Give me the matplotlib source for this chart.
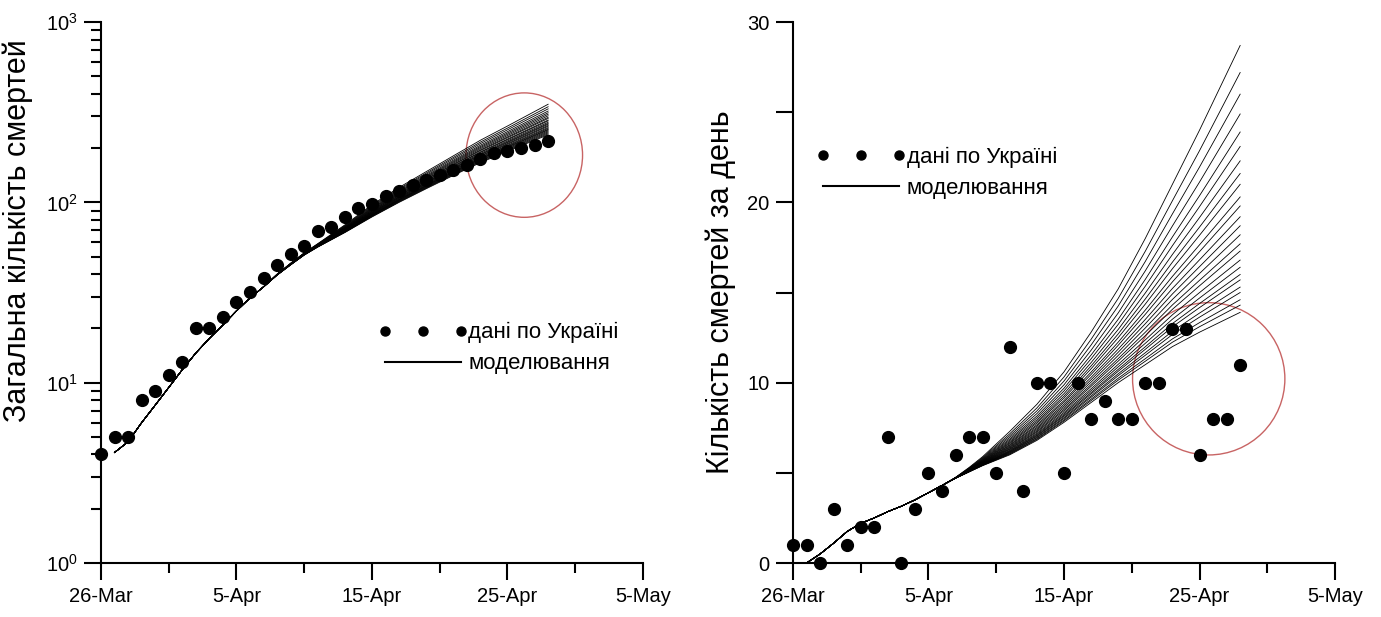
import numpy as np
import matplotlib
matplotlib.use("Agg")
import matplotlib.pyplot as plt
from matplotlib.patches import Ellipse
from matplotlib.lines import Line2D
from matplotlib.ticker import FixedLocator, LogLocator, NullFormatter

plt.rcParams['font.family'] = ['Liberation Sans', 'DejaVu Sans']
plt.rcParams['mathtext.fontset'] = 'custom'
plt.rcParams['mathtext.rm'] = 'Liberation Sans'
plt.rcParams['mathtext.it'] = 'Liberation Sans:italic'
plt.rcParams['mathtext.bf'] = 'Liberation Sans:bold'

# days counted from 26-Mar
tick_days = [0, 10, 20, 30, 40]
tick_labels = ['26-Mar', '5-Apr', '15-Apr', '25-Apr', '5-May']

# observed data (Ukraine)
total_deaths = [4, 5, 5, 8, 9, 11, 13, 20, 20, 23, 28, 32, 38, 45, 52, 57, 69, 73,
                83, 93, 98, 108, 116, 125, 133, 141, 151, 161, 174, 187, 193, 201, 209, 220]
daily_deaths = [1, 1, 0, 3, 1, 2, 2, 7, 0, 3, 5, 4, 6, 7, 7, 5, 12, 4,
                10, 10, 5, 10, 8, 9, 8, 8, 10, 10, 13, 13, 6, 8, 8, 11]

# model curves: lowest and highest member of the family
model_days = [1, 2, 3, 4, 5, 6, 7, 8, 9, 10, 11, 12, 13, 14, 15, 16, 18, 20, 22, 24, 26, 28, 30, 33]
total_low = [4.1, 4.7, 6.0, 7.5, 9.4, 11.8, 14.6, 17.6, 20.9, 25.0, 29.5, 34, 39.5, 45, 51, 56.5,
             68, 83, 100, 119, 141, 166, 192, 237]
total_high = [4.1, 4.7, 6.0, 7.5, 9.4, 11.8, 14.6, 17.6, 20.9, 25.0, 29.5, 34, 40, 46, 52.5, 59,
              75, 97, 121, 148, 181, 221, 265, 350]
daily_low = [0, 0.5, 1.1, 1.75, 2.2, 2.5, 2.85, 3.15, 3.5, 3.9, 4.3, 4.7, 5.05, 5.4, 5.7, 6.0,
             6.8, 7.8, 8.9, 10.0, 11.0, 12.0, 12.8, 13.9]
daily_high = [0, 0.5, 1.1, 1.75, 2.2, 2.5, 2.85, 3.15, 3.5, 3.9, 4.3, 4.75, 5.3, 5.9, 6.6, 7.3,
              8.8, 10.6, 12.8, 15.2, 18.0, 21.0, 24.0, 28.7]

# end values (28-Apr) of each curve of the family
total_ends = [350, 339, 330, 321, 314, 308, 302, 296, 292, 286, 283, 278, 274,
              271, 267, 264, 260, 257, 254, 252, 249, 246, 243, 240, 237]
daily_ends = [28.7, 27.2, 26.0, 24.9, 23.9, 23.1, 22.3, 21.6, 21.0, 20.3, 19.8, 19.2, 18.7,
              18.2, 17.7, 17.3, 16.8, 16.4, 16.0, 15.7, 15.3, 15.0, 14.6, 14.3, 13.9]

fig = plt.figure(figsize=(13.81, 6.17), dpi=100)
ax1 = fig.add_axes([0.0731, 0.0875, 0.3925, 0.8768])
ax2 = fig.add_axes([0.5742, 0.0875, 0.3925, 0.8768])

tick_fs = 14.5
leg_fs = 16
label_fs = 22
red = '#c86464'

leg_handles = [
    Line2D([], [], ls='none', marker='o', color='k', ms=6.5),
    Line2D([], [], ls='-', color='k', lw=1.5),
]
leg_labels = ['дані по Україні', 'моделювання']


def style_axes(ax):
    for s in ['top', 'right']:
        ax.spines[s].set_visible(False)
    for s in ['left', 'bottom']:
        ax.spines[s].set_linewidth(1.5)
    ax.set_xlim(0, 40)
    ax.set_xticks(tick_days)
    ax.set_xticklabels(tick_labels)
    ax.xaxis.set_minor_locator(FixedLocator([5, 15, 25, 35]))
    ax.tick_params(which='major', direction='out', length=12, width=1.5, labelsize=tick_fs, pad=5)
    ax.tick_params(which='minor', direction='out', length=7, width=1.5)


def add_legend(ax, anchor):
    ax.legend(leg_handles, leg_labels, loc='upper left', bbox_to_anchor=anchor, frameon=False,
              fontsize=leg_fs, numpoints=3, handlelength=4.0, handletextpad=0.05,
              labelspacing=0.45, borderpad=0, borderaxespad=0)


# ---- left: cumulative deaths, log scale
lo = np.log10(total_low)
hi = np.log10(total_high)
for end in total_ends:
    f = (np.log10(end) - lo[-1]) / (hi[-1] - lo[-1])
    ax1.plot(model_days, 10 ** (lo + f * (hi - lo)), color='k', lw=0.6)
ax1.plot(np.arange(len(total_deaths)), total_deaths, 'o', color='k', ms=8.5,
         clip_on=False, zorder=5)
ax1.set_yscale('log')
ax1.set_ylim(1, 1000)
ax1.yaxis.set_major_locator(LogLocator(base=10, numticks=10))
ax1.yaxis.set_minor_locator(LogLocator(base=10, subs=np.arange(2, 10), numticks=20))
ax1.yaxis.set_minor_formatter(NullFormatter())
style_axes(ax1)
ax1.set_ylabel('Загальна кількість смертей', fontsize=label_fs)
ax1.yaxis.set_label_coords(-0.125, 0.615)
add_legend(ax1, (0.512, 0.445))
ax1.add_patch(Ellipse((0.781, 0.754), 0.215, 0.230, transform=ax1.transAxes,
                      fill=False, ec=red, lw=1.0))

# ---- right: daily deaths
lo_d = np.array(daily_low)
hi_d = np.array(daily_high)
for end in daily_ends:
    f = (end - lo_d[-1]) / (hi_d[-1] - lo_d[-1])
    ax2.plot(model_days, lo_d + f * (hi_d - lo_d), color='k', lw=0.6)
ax2.plot(np.arange(len(daily_deaths)), daily_deaths, 'o', color='k', ms=8.5, clip_on=False,
         zorder=5)
ax2.set_ylim(0, 30)
ax2.set_yticks([0, 10, 20, 30])
ax2.yaxis.set_minor_locator(FixedLocator([5, 15, 25]))
style_axes(ax2)
ax2.tick_params(axis='y', which='minor', length=12)
ax2.set_ylabel('Кількість смертей за день', fontsize=label_fs, labelpad=8)
add_legend(ax2, (0.044, 0.769))
ax2.add_patch(Ellipse((0.767, 0.3405), 0.281, 0.2815, transform=ax2.transAxes,
                      fill=False, ec=red, lw=1.0))

fig.savefig('out.png', dpi=100)
